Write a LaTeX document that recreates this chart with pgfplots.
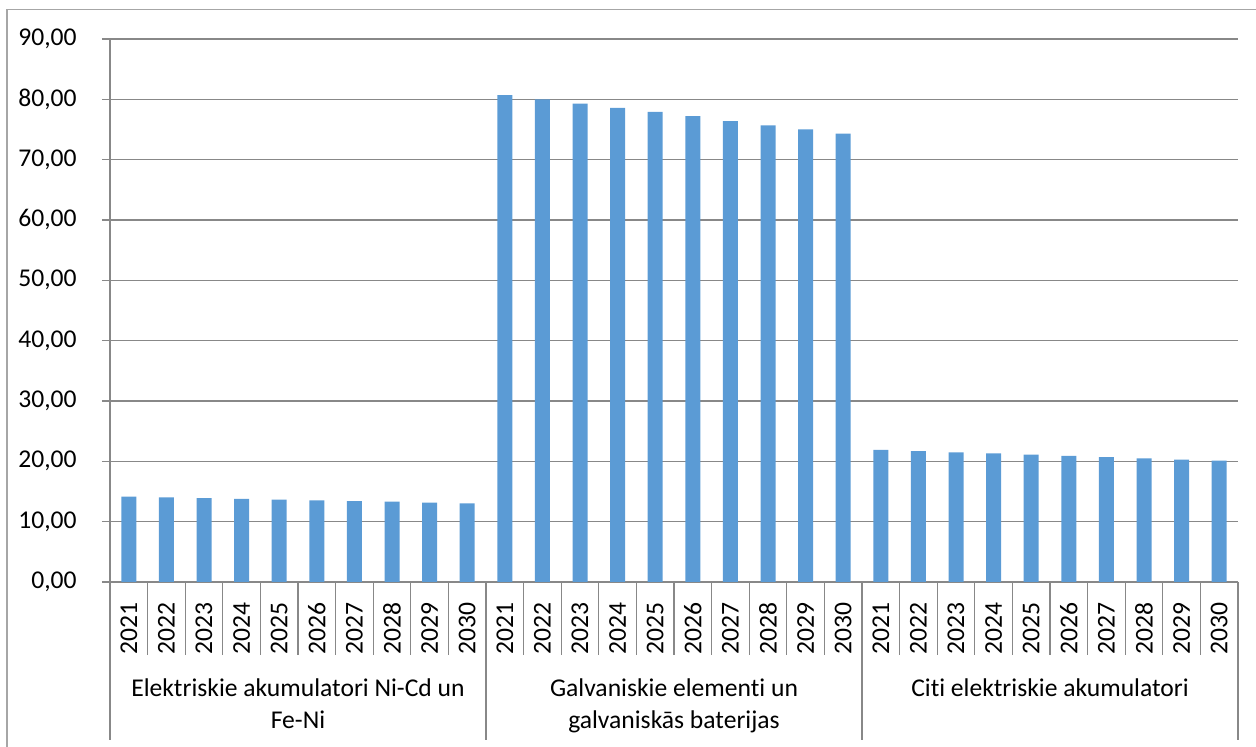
\documentclass[border=0pt]{standalone}
\usepackage{fontspec}
\setmainfont[Ligatures={NoCommon,NoRare}]{Carlito}
\usepackage{pgfplots}
\pgfplotsset{compat=1.18}

\definecolor{barblue}{HTML}{5B9BD5}
\definecolor{axisgray}{HTML}{888888}
\definecolor{framegray}{HTML}{A6A6A6}

\begin{document}
\fontsize{12.8}{16}\selectfont
\begin{tikzpicture}
\path[use as bounding box] (0,0) rectangle (628pt,373.5pt);
\draw[framegray, line width=0.6pt] (3.5pt,0) -- (3.5pt,368.75pt) -- (628pt,368.75pt);
\begin{axis}[
    at={(55pt,82.5pt)}, anchor=south west,
    scale only axis,
    width=564pt, height=271.5pt,
    ybar, bar width=7.5pt,
    xmin=-0.5, xmax=29.5,
    ymin=0, ymax=90,
    ytick={0,10,...,90},
    xtick={0,...,29},
    xticklabels={2021,2022,2023,2024,2025,2026,2027,2028,2029,2030,
                 2021,2022,2023,2024,2025,2026,2027,2028,2029,2030,
                 2021,2022,2023,2024,2025,2026,2027,2028,2029,2030},
    minor xtick={-0.5,0.5,...,29.5},
    axis x line*=bottom, axis y line*=left,
    axis line style={axisgray, line width=0.8pt},
    tick align=outside,
    major tick length=4pt,
    minor tick length=36.5pt,
    xtick style={draw=none},
    minor x tick style={draw=axisgray, line width=0.6pt},
    ytick style={axisgray, line width=0.8pt},
    ymajorgrids,
    grid style={axisgray, line width=0.8pt},
    xticklabel style={rotate=90, anchor=east, inner sep=0pt},
    xticklabel shift=6pt,
    yticklabel style={inner sep=0pt, xshift=-12.5pt},
    /pgf/number format/.cd, fixed, fixed zerofill, precision=2, use comma, assume math mode=true,
    /pgfplots/.cd,
    tick label style={font=\fontsize{12.8}{16}\selectfont},
    clip=false,
]
\addplot[fill=barblue, draw=none] coordinates {
 (0,14.15) (1,14.03) (2,13.91) (3,13.78) (4,13.66) (5,13.54) (6,13.42) (7,13.30) (8,13.17) (9,13.05)
 (10,80.7) (11,80.0) (12,79.3) (13,78.6) (14,77.9) (15,77.2) (16,76.4) (17,75.7) (18,75.0) (19,74.3)
 (20,21.9) (21,21.7) (22,21.5) (23,21.3) (24,21.1) (25,20.9) (26,20.7) (27,20.5) (28,20.3) (29,20.1)
};
% group separators below the category axis
\draw[axisgray, line width=0.6pt] (axis cs:-0.5,0) -- ([yshift=-79pt]axis cs:-0.5,0);
\draw[axisgray, line width=0.6pt] (axis cs:9.5,0) -- ([yshift=-79pt]axis cs:9.5,0);
\draw[axisgray, line width=0.6pt] (axis cs:19.5,0) -- ([yshift=-79pt]axis cs:19.5,0);
\draw[axisgray, line width=0.6pt] (axis cs:29.5,0) -- ([yshift=-79pt]axis cs:29.5,0);
\node[align=center, anchor=north, inner sep=0pt] at (axis cs:4.5,0) [yshift=-48pt] {Elektriskie akumulatori Ni-Cd un\\Fe-Ni};
\node[align=center, anchor=north, inner sep=0pt] at (axis cs:14.5,0) [yshift=-48pt] {Galvaniskie elementi un\\galvaniskās baterijas};
\node[align=center, anchor=north, inner sep=0pt] at (axis cs:24.5,0) [yshift=-48pt] {Citi elektriskie akumulatori};
\end{axis}
\end{tikzpicture}
\end{document}
